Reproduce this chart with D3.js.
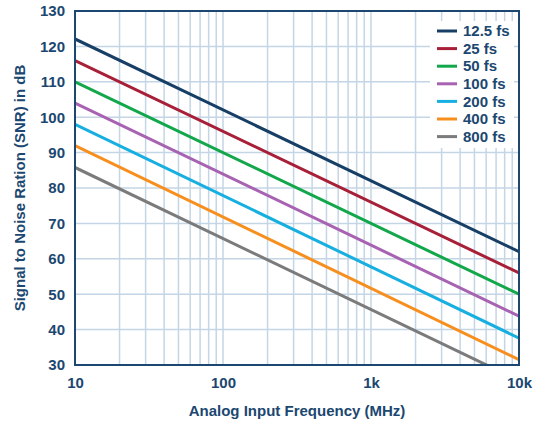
<!DOCTYPE html>
<html>
<head>
<meta charset="utf-8">
<script src="https://cdn.jsdelivr.net/npm/d3@7"></script>
<style>
  body { margin: 0; background: #fff; }
  text { font-family: "Liberation Sans", Arial, sans-serif; font-weight: bold; fill: #1b4770; }
</style>
</head>
<body>
<script>
// jitter values (legend) and SNR read at 10 MHz and 10 GHz
const series = ["12.5 fs", "25 fs", "50 fs", "100 fs", "200 fs", "400 fs", "800 fs"];
const freqs = [10, 10000];
const snrStart = [122.1, 116.0, 110.0, 104.0, 98.0, 92.0, 85.8];
const snrEnd = [62.0, 56.0, 50.0, 43.8, 37.6, 31.5, 25.6];
const colours = ["#173f66", "#a81f38", "#13a74b", "#a862b2", "#17afe0", "#f78f1f", "#7b7b7b"];
const xTicks = [10, 100, 1000, 10000];
const xTickLabels = ["10", "100", "1k", "10k"];
const yTicks = [30, 40, 50, 60, 70, 80, 90, 100, 110, 120, 130];

const w = 533, h = 421;
const m = { left: 75, right: 519, top: 11, bottom: 365 };

let svg = d3.select("body").append("svg")
  .attr("width", w)
  .attr("height", h);

let xScale = d3.scaleLog().domain([10, 10000]).range([m.left, m.right]);
let yScale = d3.scaleLinear().domain([30, 130]).range([m.bottom, m.top]);

// minor grid values for log axis
let gridX = [];
[10, 100, 1000].forEach(function(dec) {
  for (let k = 2; k <= 10; k++) { gridX.push(dec * k); }
});

svg.append("g").selectAll("line")
  .data(gridX)
  .enter().append("line")
  .attr("x1", d => xScale(d)).attr("x2", d => xScale(d))
  .attr("y1", m.top).attr("y2", m.bottom)
  .attr("stroke", "#c4d6e5").attr("stroke-width", 1.5);

svg.append("g").selectAll("line")
  .data(yTicks)
  .enter().append("line")
  .attr("x1", m.left).attr("x2", m.right)
  .attr("y1", d => yScale(d)).attr("y2", d => yScale(d))
  .attr("stroke", "#c4d6e5").attr("stroke-width", 1.5);

// data lines, clipped to the plot
svg.append("clipPath").attr("id", "plot")
  .append("rect").attr("x", m.left).attr("y", m.top)
  .attr("width", m.right - m.left).attr("height", m.bottom - m.top);

let line = d3.line().x(d => xScale(d[0])).y(d => yScale(d[1]));
let data = series.map(function(s, i) {
  return [[freqs[0], snrStart[i]], [freqs[1], snrEnd[i]]];
});

svg.append("g").attr("clip-path", "url(#plot)")
  .selectAll("path")
  .data(data)
  .enter().append("path")
  .attr("d", line)
  .attr("fill", "none")
  .attr("stroke", (d, i) => colours[i])
  .attr("stroke-width", 3);

// frame
svg.append("rect")
  .attr("x", m.left).attr("y", m.top)
  .attr("width", m.right - m.left).attr("height", m.bottom - m.top)
  .attr("fill", "none").attr("stroke", "#1b4770").attr("stroke-width", 2);

// axes
let yAxis = d3.axisLeft(yScale).tickValues(yTicks).tickSize(0).tickPadding(10);
let xAxis = d3.axisBottom(xScale).tickValues(xTicks).tickSize(0).tickPadding(12)
  .tickFormat((d, i) => xTickLabels[i]);

svg.append("g").attr("transform", "translate(" + m.left + ",0)").call(yAxis)
  .call(g => g.select(".domain").remove())
  .selectAll("text").style("font-size", "15px").attr("fill", "#1b4770");
svg.append("g").attr("transform", "translate(0," + m.bottom + ")").call(xAxis)
  .call(g => g.select(".domain").remove())
  .selectAll("text").style("font-size", "15px").attr("fill", "#1b4770");

// axis titles
svg.append("text")
  .attr("transform", "translate(" + ((m.left + m.right) / 2) + "," + 416 + ")")
  .style("text-anchor", "middle").style("font-size", "15px")
  .text("Analog Input Frequency (MHz)");
svg.append("text")
  .attr("transform", "translate(25," + ((m.top + m.bottom) / 2) + ") rotate(-90)")
  .style("text-anchor", "middle").style("font-size", "15px")
  .text("Signal to Noise Ration (SNR) in dB");

// legend
let legend = svg.append("g");
legend.append("rect")
  .attr("x", 430).attr("y", 21).attr("width", 84).attr("height", 127)
  .attr("fill", "#fff");
legend.selectAll("line")
  .data(series).enter().append("line")
  .attr("x1", 437).attr("x2", 457)
  .attr("y1", (d, i) => 31 + i * 17.6).attr("y2", (d, i) => 31 + i * 17.6)
  .attr("stroke", (d, i) => colours[i]).attr("stroke-width", 3);
legend.selectAll("text")
  .data(series).enter().append("text")
  .attr("x", 463)
  .attr("y", (d, i) => 31 + i * 17.6)
  .attr("dy", "0.35em")
  .style("font-size", "15px")
  .text(d => d);
</script>
</body>
</html>
